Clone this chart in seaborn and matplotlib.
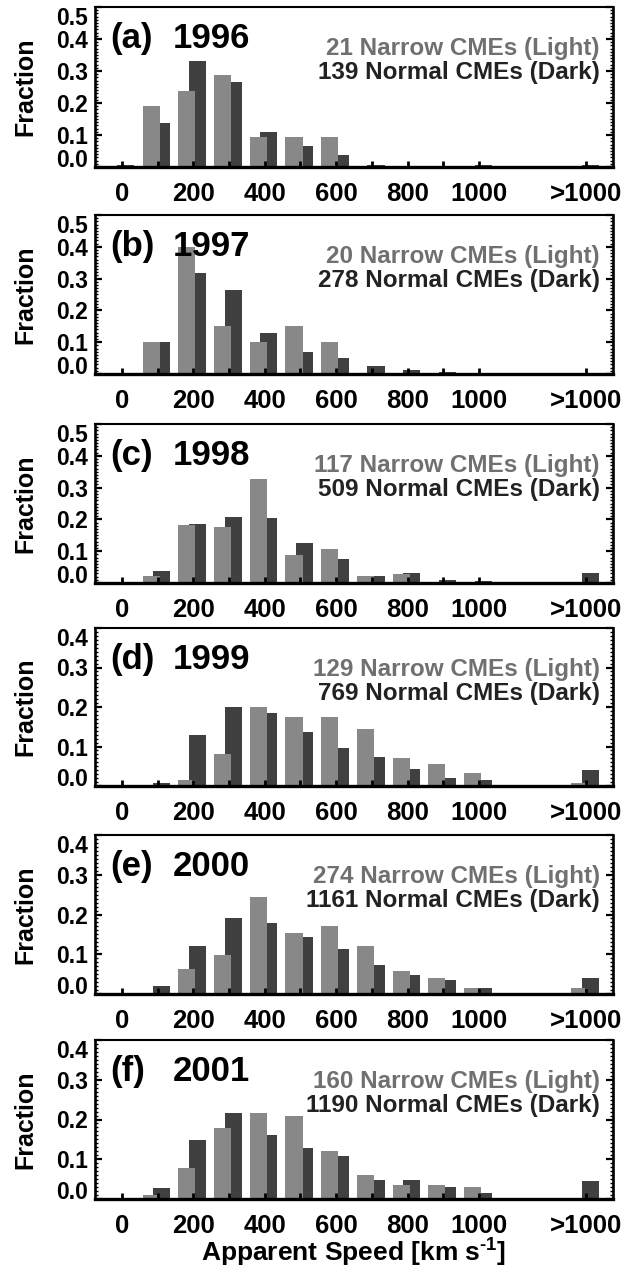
import numpy as np
import pandas as pd
import matplotlib
matplotlib.use("Agg")
import matplotlib.pyplot as plt
import seaborn as sns
from matplotlib.ticker import MultipleLocator

# ---------------- data ----------------
speed_bins = [0, 100, 200, 300, 400, 500, 600, 700, 800, 900, 1000, 1300]
speed_tick_labels = ["0", "", "200", "", "400", "", "600", "", "800", "", "1000", ">1000"]
panel_letters = ["(a)", "(b)", "(c)", "(d)", "(e)", "(f)"]
years = ["1996", "1997", "1998", "1999", "2000", "2001"]
narrow_counts = [21, 20, 117, 129, 274, 160]
normal_counts = [139, 278, 509, 769, 1161, 1190]

narrow_1996 = [0.0, 0.190, 0.238, 0.286, 0.095, 0.095, 0.095, 0.0, 0.0, 0.0, 0.0, 0.0]
normal_1996 = [0.007, 0.137, 0.331, 0.266, 0.108, 0.065, 0.036, 0.007, 0.0, 0.0, 0.007, 0.007]

narrow_1997 = [0.0, 0.100, 0.400, 0.150, 0.100, 0.150, 0.100, 0.0, 0.0, 0.0, 0.0, 0.0]
normal_1997 = [0.0, 0.101, 0.317, 0.263, 0.130, 0.068, 0.050, 0.024, 0.014, 0.007, 0.0, 0.0]

narrow_1998 = [0.0, 0.021, 0.181, 0.175, 0.327, 0.088, 0.107, 0.023, 0.029, 0.0, 0.0, 0.0]
normal_1998 = [0.0, 0.038, 0.184, 0.209, 0.205, 0.125, 0.076, 0.023, 0.032, 0.010, 0.007, 0.032]

narrow_1999 = [0.0, 0.0, 0.016, 0.080, 0.201, 0.174, 0.174, 0.144, 0.072, 0.056, 0.033, 0.008]
normal_1999 = [0.0, 0.008, 0.128, 0.201, 0.185, 0.136, 0.095, 0.074, 0.044, 0.021, 0.015, 0.040]

narrow_2000 = [0.0, 0.0, 0.064, 0.099, 0.244, 0.153, 0.171, 0.122, 0.059, 0.039, 0.016, 0.016]
normal_2000 = [0.0, 0.021, 0.120, 0.191, 0.178, 0.143, 0.112, 0.074, 0.049, 0.036, 0.016, 0.041]

narrow_2001 = [0.0, 0.010, 0.079, 0.178, 0.216, 0.208, 0.122, 0.060, 0.035, 0.035, 0.030, 0.0]
normal_2001 = [0.0, 0.027, 0.149, 0.216, 0.161, 0.129, 0.107, 0.047, 0.047, 0.030, 0.015, 0.045]

narrow_series = [narrow_1996, narrow_1997, narrow_1998, narrow_1999, narrow_2000, narrow_2001]
normal_series = [normal_1996, normal_1997, normal_1998, normal_1999, normal_2000, normal_2001]

# ---------------- style ----------------
sns.set_style("white")
plt.rcParams["font.family"] = ["Liberation Sans", "DejaVu Sans"]
plt.rcParams["font.weight"] = "bold"
plt.rcParams["mathtext.fontset"] = "custom"
plt.rcParams["mathtext.rm"] = "Liberation Sans:bold"
plt.rcParams["mathtext.default"] = "rm"
for key in ["text.color", "axes.labelcolor", "xtick.color", "ytick.color", "axes.edgecolor"]:
    plt.rcParams[key] = "black"

LIGHT = "#888888"
DARK = "#404040"
LIGHT_TXT = "#707070"
DARK_TXT = "#222222"

W, H = 641, 1268
fig = plt.figure(figsize=(W / 100, H / 100), dpi=100)

left_px, right_px = 95, 613
tops = [7, 215, 424, 628, 835, 1040]
bottoms = [167, 374, 583, 786, 994, 1199]
ytops = [0.5, 0.5, 0.5, 0.4, 0.4, 0.4]

for i in range(6):
    ax = fig.add_axes([left_px / W, 1 - bottoms[i] / H,
                       (right_px - left_px) / W, (bottoms[i] - tops[i]) / H])
    df_dark = pd.DataFrame({"speed": np.array(speed_bins) + 11.5,
                            "fraction": normal_series[i]})
    df_light = pd.DataFrame({"speed": np.array(speed_bins) - 18.0,
                             "fraction": narrow_series[i]})
    sns.barplot(data=df_dark, x="speed", y="fraction", native_scale=True,
                width=0.48, color=DARK, saturation=1, errorbar=None,
                linewidth=0, ax=ax)
    sns.barplot(data=df_light, x="speed", y="fraction", native_scale=True,
                width=0.48, color=LIGHT, saturation=1, errorbar=None,
                linewidth=0, ax=ax)

    ax.set_xlim(-75, 1375)
    ax.set_ylim(0, ytops[i])
    ax.set_axisbelow(False)

    ax.set_xticks(speed_bins)
    ax.set_xticklabels(speed_tick_labels)
    ax.tick_params(axis="x", which="major", direction="in", length=4, width=2,
                   bottom=True, top=False, pad=11, labelsize=18.5, colors="black")
    yt = np.round(np.arange(0, ytops[i] + 0.001, 0.1), 1)
    ax.set_yticks(yt)
    ax.set_yticklabels([f"{v:.1f}" for v in yt])
    ax.yaxis.set_minor_locator(MultipleLocator(0.01))
    ax.tick_params(axis="y", which="major", direction="in", length=5, width=1.6,
                   left=True, right=True, pad=5, labelsize=16.5, colors="black")
    ax.tick_params(axis="y", which="minor", direction="in", length=2.5, width=1,
                   left=True, right=True, colors="black")
    for lab in ax.get_yticklabels():
        lab.set_fontweight("bold")
    for lab in ax.get_xticklabels():
        lab.set_fontweight("bold")
    ylabs = ax.yaxis.get_major_ticks()
    ylabs[0].label1.set_verticalalignment("baseline")
    ylabs[-1].label1.set_verticalalignment("top")

    for side, lw in [("left", 1.9), ("right", 1.9), ("top", 1.5), ("bottom", 2.4)]:
        ax.spines[side].set_visible(True)
        ax.spines[side].set_linewidth(lw)
        ax.spines[side].set_color("black")

    ax.set_ylabel("Fraction", fontsize=18, fontweight="bold", color="black")
    ax.yaxis.set_label_coords(-0.112, 0.5)
    if i == 5:
        ax.set_xlabel(r"Apparent Speed [km s$^{\text{-1}}$]", fontsize=19,
                      fontweight="bold", color="black")
        ax.xaxis.set_label_coords(0.5, -0.24)
    else:
        ax.set_xlabel("")

    ax.annotate(panel_letters[i], xy=(0, 1), xycoords="axes fraction",
                xytext=(15.7, -41), textcoords="offset pixels",
                ha="left", va="baseline", fontsize=25, fontweight="bold", color="black")
    ax.annotate(years[i], xy=(0, 1), xycoords="axes fraction",
                xytext=(77.5, -41), textcoords="offset pixels",
                ha="left", va="baseline", fontsize=25, fontweight="bold", color="black")
    ax.annotate(f"{narrow_counts[i]} Narrow CMEs (Light)", xy=(1, 1),
                xycoords="axes fraction", xytext=(-13, -48),
                textcoords="offset pixels", ha="right", va="baseline",
                fontsize=17.5, fontweight="bold", color=LIGHT_TXT)
    ax.annotate(f"{normal_counts[i]} Normal CMEs (Dark)", xy=(1, 1),
                xycoords="axes fraction", xytext=(-13, -72),
                textcoords="offset pixels", ha="right", va="baseline",
                fontsize=17.5, fontweight="bold", color=DARK_TXT)

fig.savefig("out.png", dpi=100)
